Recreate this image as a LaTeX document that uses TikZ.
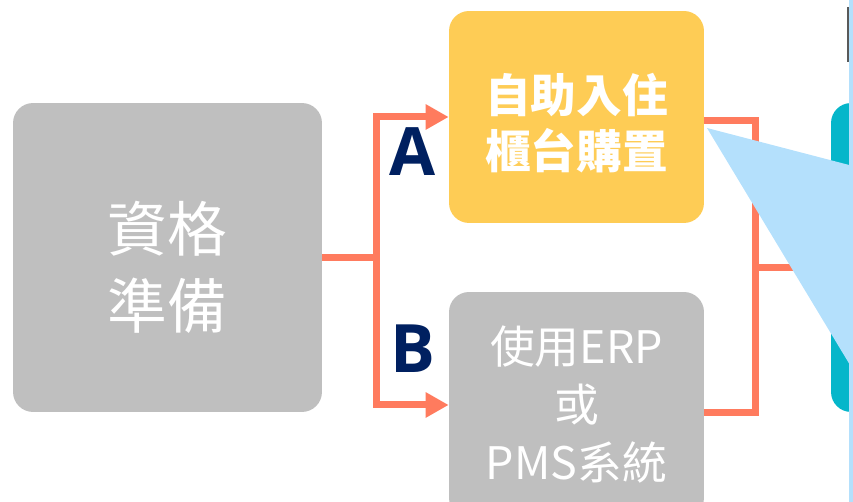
\documentclass[tikz,border=0pt]{standalone}
\usepackage{fontspec}
\setmainfont{Noto Sans CJK TC}
\newfontfamily\letterfont{Open Sans}
\usetikzlibrary{arrows.meta}
\definecolor{boxgray}{HTML}{BFBFBF}
\definecolor{kioskyellow}{HTML}{FECC55}
\definecolor{nextteal}{HTML}{05B6CA}
\definecolor{linkorange}{HTML}{FF7B5E}
\definecolor{calloutblue}{HTML}{B4E0FC}
\definecolor{letternavy}{HTML}{002060}

\begin{document}
\begin{tikzpicture}
  [x=0.02cm,y=-0.02cm,
   stage/.style={rectangle,rounded corners=0.4cm,inner sep=0pt},
   stagetext/.style={text=white,align=center,inner sep=0pt},
   link/.style={draw=linkorange,line width=0.14cm},
   letter/.style={text=letternavy,font=\letterfont\bfseries\fontsize{38}{40}\selectfont}]
  \useasboundingbox (0,0) rectangle (853,502);
  \clip (0,0) rectangle (853,502);

  \node[stage,fill=boxgray,minimum width=6.18cm,minimum height=6.18cm] (prep) at (167.5,257.5) {};
  \node[stage,fill=kioskyellow,minimum width=5.1cm,minimum height=4.24cm] (kiosk) at (576.5,117) {};
  \node[stage,fill=boxgray,minimum width=5.1cm,minimum height=4.52cm] (erp) at (576.5,405) {};
  \node[stage,fill=nextteal,minimum width=3.36cm,minimum height=6.18cm] (next) at (915,257.5) {};

  \node[stagetext,font=\fontsize{34}{44}\selectfont] (prepText) at ([yshift=-0.2cm]prep.center) {資格\\準備};
  \node[stagetext,font=\bfseries\fontsize{26}{32}\selectfont] (kioskText) at ([yshift=-0.12cm]kiosk.center) {自助入住\\櫃台購置};
  \node[stagetext,font=\fontsize{25.5}{33}\selectfont] (erpText) at (erp.center) {使用ERP\\或\\PMS系統};

  \coordinate (split) at (376.5,257.5);
  \coordinate (merge) at (755.5,267.5);

  \draw[link] (prep.east) -- (split);
  \foreach \to in {kiosk,erp}
    \draw[link,-{Triangle[length=0.46cm,width=0.48cm]}] (split) |- (\to.west);
  \draw[link] ([yshift=-0.08cm]kiosk.east) -| (merge);
  \draw[link] ([yshift=-0.16cm]erp.east) -| (merge);
  \draw[link] (merge) -- (merge -| next.west);

  \node[letter] (labA) at (413,152) {A};
  \node[letter] (labB) at (413,349) {B};

  % callout over the right side
  \fill[calloutblue] (707,128) -- (853,166) -- (853,370) -- cycle;
  \fill[calloutblue] (849,0) rectangle (853,502);
  \draw[gray!70!black,line width=0.04cm] (848,7) -- (848,62);
\end{tikzpicture}
\end{document}
